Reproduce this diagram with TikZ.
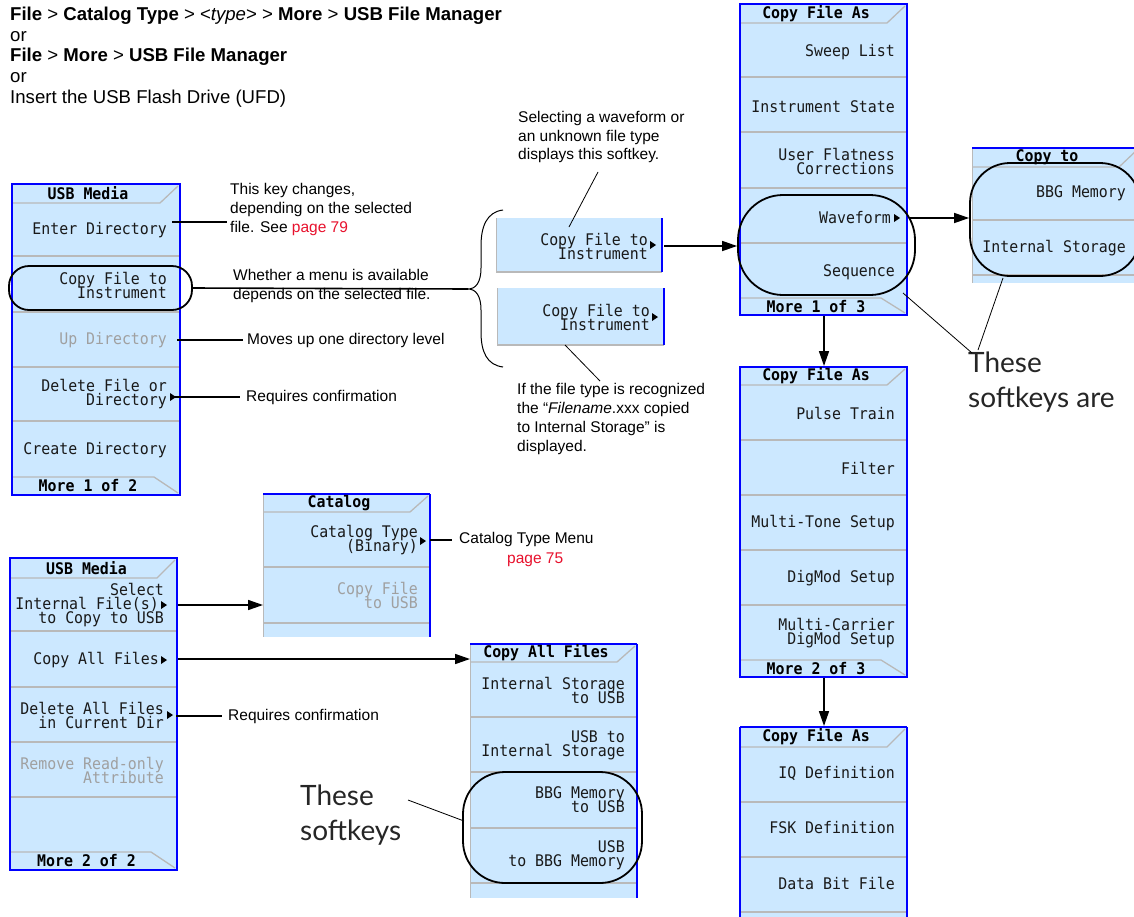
\documentclass[tikz,border=0pt]{standalone}
\usepackage{fontspec}
\setmainfont{Liberation Sans}
\newfontfamily\keyfont{DejaVu Sans Mono}[FakeStretch=0.93]
\newfontfamily\bigfont{Lato}
\usetikzlibrary{arrows.meta}
\definecolor{keyblue}{RGB}{204,232,255}
\definecolor{menublue}{RGB}{0,0,255}
\definecolor{sepgrey}{RGB}{185,185,185}
\definecolor{offgrey}{RGB}{160,160,160}
\definecolor{pagered}{RGB}{232,17,45}
\AtBeginDocument{\lineskiplimit=-20pt\relax}
\tikzset{
 keytext/.style={anchor=east, align=right, font=\keyfont\fontsize{16}{14}\selectfont, inner sep=0pt, text=black!90},
 offtext/.style={keytext, text=offgrey},
 titletext/.style={anchor=center, font=\keyfont\bfseries\fontsize{16}{14}\selectfont, inner sep=0pt},
 sepline/.style={draw=sepgrey, line width=1.3pt},
 menuframe/.style={draw=menublue, line width=1.5pt},
 menuedge/.style={draw=menublue, line width=2.5pt},
 note/.style={anchor=west, align=left, font=\fontsize{15.5}{19}\selectfont, inner sep=0pt},
 bignote/.style={anchor=west, align=left, font=\bigfont\fontsize{28}{35}\selectfont, inner sep=0pt, text=black!85},
 lead/.style={draw=black, line width=0.8pt},
 callout/.style={draw=black, line width=1.6pt},
 arr/.style={draw=black, line width=1.6pt, -{Triangle[length=15pt,width=10pt]}},
 hilite/.style={draw=black, line width=1.8pt, inner sep=0pt},
}
\newcommand\FullMenu[7]{%
 \fill[keyblue] (#1,#3) rectangle (#2,#6);
 \foreach \sy in {#7} \draw[sepline] (#1,\sy) -- (#2,\sy);
 \draw[sepline] (#1,#4) -- ({#2-20},#4) -- ({#2-2},{#3+2});
 \draw[sepline] (#1,#5) -- ({#2-26},#5) -- ({#2-2},{#6-2});
 \draw[menuframe] (#1,#3) rectangle (#2,#6);
 \draw[menuedge] (#2,#3) -- (#2,#6);
}
\newcommand\PartMenu[6]{%
 \fill[keyblue] (#1,#3) rectangle (#2,#5);
 \foreach \sy in {#6} \draw[sepline] (#1,\sy) -- (#2,\sy);
 \draw[sepline] (#1,#4) -- ({#2-20},#4) -- ({#2-2},{#3+2});
 \draw[draw=sepgrey, line width=1pt] (#1,#3) -- (#1,#5);
 \draw[menuframe] (#1,#3) -- (#2,#3);
 \draw[menuedge] (#2,#3) -- (#2,#5);
}
\newcommand\OneKey[4]{%
 \fill[keyblue] (#1,#3) rectangle (#2,#4);
 \draw[sepline] (#1,#4) -- (#2,#4);
 \draw[draw=sepgrey, line width=1pt] (#1,#3) -- (#1,#4);
 \draw[menuedge] (#2,#3) -- (#2,#4);
}
\newcommand\Ptr[2]{\fill (#1,{#2-4}) -- ({#1+6},#2) -- (#1,{#2+4}) -- cycle;}
\begin{document}
\begin{tikzpicture}[x=1pt,y=-1pt]
\useasboundingbox (0,0) rectangle (1134,916);
\fill[white] (0,0) rectangle (1134,916);

% ---- header text
\node[anchor=west, align=left, inner sep=0pt, font=\fontsize{18.6}{20.6}\selectfont] (header) at (10,57)
 {\textbf{File} > \textbf{Catalog Type} > <\textit{type}> > \textbf{More} > \textbf{USB File Manager}\\
  or\\
  \textbf{File} > \textbf{More} > \textbf{USB File Manager}\\
  or\\
  Insert the USB Flash Drive (UFD)};

% ---- Menu A: USB Media (1 of 2)
\FullMenu{12}{180}{184}{203}{477}{495}{256,312,367,421}
\node[titletext] (aT) at (88,193) {USB Media};
\node[keytext] (a1) at (167,230) {Enter Directory};
\node[keytext] (a2) at (167,285) {Copy File to\\Instrument};
\node[offtext] (a3) at (167,340) {Up Directory};
\node[keytext] (a4) at (167,394) {Delete File or\\Directory};
\node[keytext] (a5) at (167,450) {Create Directory};
\node[titletext] (aM) at (88,486) {More 1 of 2};
\Ptr{170}{397}

% ---- Menu B: USB Media (2 of 2)
\FullMenu{10}{177}{558}{578}{852}{870}{631,687,742,797}
\node[titletext] (bT) at (86.5,568) {USB Media};
\node[keytext] (b1) at (164,605) {Select\\Internal File(s)\kern5pt\\to Copy to USB};
\node[keytext] (b2) at (164,660) {Copy All Files\kern5pt};
\node[keytext] (b3) at (164,715) {Delete All Files\\in Current Dir};
\node[offtext] (b4) at (164,770) {Remove Read-only\\Attribute};
\node[titletext] (bM) at (86.5,861) {More 2 of 2};
\Ptr{161}{605}
\Ptr{161}{660}
\Ptr{167}{715}

% ---- Menu C: Copy File As (1 of 3)
\FullMenu{740}{907}{4}{23}{298}{315}{77,132,188,243}
\node[titletext] (cT) at (816,14) {Copy File As};
\node[keytext] (c1) at (895,52) {Sweep List};
\node[keytext] (c2) at (895,107) {Instrument State};
\node[keytext] (c3) at (895,161) {User Flatness\\Corrections};
\node[keytext] (c4) at (895,218) {Waveform\kern4pt};
\node[keytext] (c5) at (895,272) {Sequence};
\node[titletext] (cM) at (816,307) {More 1 of 3};
\Ptr{894}{218}

% ---- Menu D: Copy File As (2 of 3)
\FullMenu{740}{907}{367}{385}{660}{677}{440,495,550,605}
\node[titletext] (dT) at (816,376) {Copy File As};
\node[keytext] (d1) at (895,413) {Pulse Train};
\node[keytext] (d2) at (895,468) {Filter};
\node[keytext] (d3) at (895,523) {Multi-Tone Setup};
\node[keytext] (d4) at (895,578) {DigMod Setup};
\node[keytext] (d5) at (895,633) {Multi-Carrier\\DigMod Setup};
\node[titletext] (dM) at (816,669) {More 2 of 3};

% ---- Menu E: Copy File As (3 of 3, cut)
\PartMenu{740}{907}{727}{747}{920}{802,857,912}
\draw[menuframe] (740,727) -- (740,920);
\node[titletext] (eT) at (816,737) {Copy File As};
\node[keytext] (e1) at (895,773) {IQ Definition};
\node[keytext] (e2) at (895,828) {FSK Definition};
\node[keytext] (e3) at (895,883) {Data Bit File};

% ---- Menu F: Copy to
\PartMenu{972}{1139}{148}{167}{283}{220,275}
\node[titletext] (fT) at (1047,157) {Copy to};
\node[keytext] (f1) at (1126,193) {BBG Memory};
\node[keytext] (f2) at (1126,248) {Internal Storage};

% ---- Menu G: Catalog
\PartMenu{263}{430}{494}{512}{637}{567,623}
\node[titletext] (gT) at (339,503) {Catalog};
\node[keytext] (g1) at (418,540) {Catalog Type\\(Binary)};
\node[offtext] (g2) at (418,595) {Copy File\\to USB};
\Ptr{420}{541}

% ---- Menu H: Copy All Files
\PartMenu{470}{637}{644}{662}{898}{717,772,828,883}
\node[titletext] (hT) at (546,653) {Copy All Files};
\node[keytext] (h1) at (625,690) {Internal Storage\\to USB};
\node[keytext] (h2) at (625,745) {USB to\\Internal Storage};
\node[keytext] (h3) at (625,800) {BBG Memory\\to USB};
\node[keytext] (h4) at (625,855) {USB\\to BBG Memory};

% ---- single keys
\OneKey{496}{662}{218}{272}
\node[keytext] (k1) at (648,246) {Copy File to\\Instrument};
\Ptr{650}{245}
\OneKey{497}{664}{288}{345}
\node[keytext] (k2) at (650,317) {Copy File to\\Instrument};
\Ptr{652}{317}

% ---- highlight rings
\node[hilite, rounded corners=20pt, minimum width=183pt, minimum height=44pt] (ringA) at (100.5,288) {};
\node[hilite, rounded corners=45pt, minimum width=177pt, minimum height=100pt] (ringC) at (826.5,245) {};
\node[hilite, rounded corners=40pt, minimum width=170pt, minimum height=113pt] (ringF) at (1055,219.5) {};
\node[hilite, rounded corners=42pt, minimum width=179pt, minimum height=111pt] (ringH) at (552.5,827.5) {};

% ---- annotation texts
\node[note] (nEnter) at (230,209) {This key changes,\\depending on the selected\\file. See \textcolor{pagered}{page 79}};
\node[note] (nAvail) at (233,286) {Whether a menu is available\\depends on the selected file.};
\node[note] (nUp) at (247,340) {Moves up one directory level};
\node[note] (nDel) at (246,397) {Requires confirmation};
\node[note, font=\fontsize{15.5}{18.5}\selectfont] (nSel) at (518,137) {Selecting a waveform or\\an unknown file type\\displays this softkey.};
\node[note, font=\fontsize{15.5}{19.3}\selectfont] (nRec) at (517,419) {If the file type is recognized\\the \textquotedblleft\textit{Filename}.xxx copied\\to Internal Storage\textquotedblright{} is\\displayed.};
\node[note] (nCat) at (459,539) {Catalog Type Menu};
\node[note, text=pagered] (nCatPg) at (507,560) {page 75};
\node[note] (nDelAll) at (228,716) {Requires confirmation};
\node[bignote] (nThese1) at (968,382) {These\\softkeys are};
\node[bignote] (nThese2) at (300,815) {These\\softkeys};

% ---- brace
\coordinate (brace) at (468,289);
\draw[line width=1pt] (503,210) .. controls (487,212) and (481,226) .. (481,246) -- (481,268)
  .. controls (481,282) and (476,289) .. (brace)
  .. controls (476,289) and (481,296) .. (481,310) -- (481,332)
  .. controls (481,352) and (487,365) .. (503,367);

% ---- connectors from Menu A
\coordinate (aEnterOut) at (172,222);
\coordinate (aEnterIn) at (227,222);
\draw[callout] (aEnterOut) -- (aEnterIn);
\draw[callout] (ringA.east) -- (brace);
\coordinate (aUpOut) at (177,340);
\coordinate (aUpIn) at (243,340);
\draw[callout] (aUpOut) -- (aUpIn);
\coordinate (aDelOut) at (173,397);
\coordinate (aDelIn) at (240,397);
\draw[callout] (aDelOut) -- (aDelIn);

% ---- connectors: single keys
\coordinate (k1top) at (569,227);
\coordinate (nSelEnd) at (598,172);
\draw[lead] (nSelEnd) -- (k1top);
\coordinate (k2bot) at (565,345);
\coordinate (nRecEnd) at (600,381);
\draw[lead] (k2bot) -- (nRecEnd);
\coordinate (k1out) at (664,246);
\draw[arr] (k1out) -- (ringC.west |- k1out);

% ---- Copy File As chain
\coordinate (cWaveOut) at (910,218);
\draw[arr] (cWaveOut) -- (ringF.west |- cWaveOut);
\coordinate (cBot) at (824,316);
\coordinate (dTop) at (824,366);
\draw[arr] (cBot) -- (dTop);
\coordinate (dBot) at (824,678);
\coordinate (eTop) at (824,726);
\draw[arr] (dBot) -- (eTop);

% ---- These softkeys are leaders
\coordinate (ringCtail) at (903,293);
\coordinate (ringFtail) at (1003,278);
\coordinate (these1a) at (972,353);
\coordinate (these1b) at (978,350);
\draw[lead] (ringCtail) -- (these1a);
\draw[lead] (ringFtail) -- (these1b);

% ---- Menu B connectors
\coordinate (bSelOut) at (178,605);
\coordinate (gIn) at (263,605);
\draw[arr] (bSelOut) -- (gIn);
\coordinate (bAllOut) at (178,659);
\coordinate (hIn) at (470,659);
\draw[arr] (bAllOut) -- (hIn);
\coordinate (bDelOut) at (176,716);
\coordinate (bDelIn) at (222,716);
\draw[callout] (bDelOut) -- (bDelIn);
\coordinate (gCatOut) at (430,540);
\coordinate (gCatIn) at (452,540);
\draw[callout] (gCatOut) -- (gCatIn);

% ---- bottom These softkeys leader
\coordinate (these2end) at (408,800);
\coordinate (ringHin) at (464,821);
\draw[lead] (these2end) -- (ringHin);
\end{tikzpicture}
\end{document}
